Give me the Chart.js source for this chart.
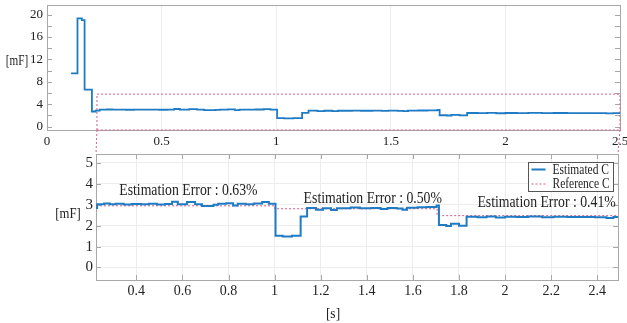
<!DOCTYPE html>
<html>
<head>
<meta charset="utf-8">
<script src="https://cdn.jsdelivr.net/npm/chart.js@4.4.0/dist/chart.umd.min.js"></script>
<style>
  html, body { margin: 0; padding: 0; background: #fff; }
  #wrap { position: relative; width: 627px; height: 323px; }
  canvas { position: absolute; left: 0; top: 0; }
</style>
</head>
<body>
<div id="wrap">
  <canvas id="topChart" width="627" height="323"></canvas>
  <canvas id="zoomChart" width="627" height="323"></canvas>
</div>
<script>
// Estimated capacitance [mF] over time [s] (value holds from each time on)
const timeS = [0.105, 0.133, 0.152, 0.164, 0.196, 0.212, 0.23, 0.26, 0.285, 0.31, 0.345, 0.38, 0.42, 0.455,
  0.49, 0.525, 0.555, 0.58, 0.62, 0.655, 0.685, 0.735, 0.755, 0.79, 0.82, 0.84, 0.875, 0.91, 0.946, 0.975,
  1.004, 1.035, 1.075, 1.113, 1.141, 1.18, 1.21, 1.245, 1.27, 1.33, 1.37, 1.42, 1.46, 1.49, 1.53, 1.555,
  1.575, 1.62, 1.66, 1.703, 1.713, 1.745, 1.765, 1.8, 1.833, 1.88, 1.92, 1.96, 2.0, 2.05, 2.1, 2.16, 2.21,
  2.27, 2.33, 2.39, 2.44, 2.47, 2.5];
const estimatedC = [9.5, 19.3, 19.0, 6.6, 2.7, 2.85, 3.02, 3.06, 3.02, 3.05, 3.01, 3.04, 3.02, 3.05,
  3.01, 3.04, 3.15, 3.02, 3.13, 3.02, 2.94, 3.0, 3.05, 3.07, 2.96, 3.05, 3.02, 3.06, 3.13, 3.05,
  1.52, 1.48, 1.52, 2.44, 2.84, 2.76, 2.83, 2.75, 2.83, 2.87, 2.83, 2.85, 2.8, 2.84, 2.82, 2.76,
  2.86, 2.88, 2.89, 2.97, 2.03, 1.99, 2.09, 2.0, 2.43, 2.4, 2.44, 2.39, 2.43, 2.41, 2.44, 2.4, 2.43,
  2.41, 2.42, 2.4, 2.37, 2.41, 2.41];

// Reference capacitance [mF]
const refTimeS = [0.225, 1.0, 1.705, 2.5];
const referenceC = [2.95, 2.81, 2.48, 2.48];

// Zoomed window marked on the top plot
const zoomBoxX = [0.218, 0.218, 2.5, 2.5, 0.218];
const zoomBoxY = [-0.6, 5.8, 5.8, -0.6, -0.6];

// Tick labels
const topXTicks = [0, 0.5, 1, 1.5, 2, 2.5];
const topYTicks = [0, 4, 8, 12, 16, 20];
const zoomXTicks = [0.4, 0.6, 0.8, 1, 1.2, 1.4, 1.6, 1.8, 2, 2.2, 2.4];
const zoomYTicks = [0, 1, 2, 3, 4, 5];

// Error notes shown in the zoomed plot
const errorNotes = ['Estimation Error : 0.63%', 'Estimation Error : 0.50%', 'Estimation Error : 0.41%'];
const errorNoteX = [0.626, 1.426, 2.18];
const errorNoteY = [3.68, 3.29, 3.08];

const SERIF = "'Liberation Serif', 'Times New Roman', serif";
const BLUE = '#1f7bc3';
const RED = '#d75c80';
const FRAME = '#a8a8a8';

function toPoints(xs, ys) {
  return xs.map((x, i) => ({ x: x, y: ys[i] }));
}

// the source figure is squeezed sideways, so its text is narrow
function narrowText(ctx, text, x, y, align, squeeze) {
  ctx.save();
  ctx.translate(x, y);
  ctx.scale(squeeze, 1);
  ctx.textAlign = align;
  ctx.fillText(text, 0, 0);
  ctx.restore();
}

function fixAxis(size, vertical) {
  return function (s) {
    if (vertical) s.width = size; else s.height = size;
    s.paddingTop = 0; s.paddingBottom = 0; s.paddingLeft = 0; s.paddingRight = 0;
  };
}

// Frame with inward MATLAB-like tick marks
function framePlugin(xMarks, yMarks) {
  return {
    id: 'frame',
    beforeDatasetsDraw(chart) {
      const { ctx, chartArea: a, scales: { x, y } } = chart;
      ctx.save();
      ctx.strokeStyle = FRAME;
      ctx.lineWidth = 1;
      ctx.beginPath();
      xMarks.forEach(v => {
        const px = Math.round(x.getPixelForValue(v)) + 0.5;
        ctx.moveTo(px, a.bottom); ctx.lineTo(px, a.bottom - 5);
        ctx.moveTo(px, a.top); ctx.lineTo(px, a.top + 5);
      });
      yMarks.forEach(v => {
        const py = Math.round(y.getPixelForValue(v)) + 0.5;
        ctx.moveTo(a.left, py); ctx.lineTo(a.left + 5, py);
        ctx.moveTo(a.right, py); ctx.lineTo(a.right - 5, py);
      });
      ctx.stroke();
      ctx.strokeRect(Math.round(a.left) + 0.5, Math.round(a.top) + 0.5,
        Math.round(a.right - a.left), Math.round(a.bottom - a.top));
      ctx.restore();
    }
  };
}

function scaleOpts(min, max, ticks, fontSize, pad, size, vertical, showGrid) {
  return {
    type: 'linear',
    min: min,
    max: max,
    afterBuildTicks: s => { s.ticks = ticks.map(v => ({ value: v })); },
    afterFit: fixAxis(size, vertical),
    grid: { display: showGrid, color: '#ededed', drawTicks: false },
    border: { display: false },
    ticks: {
      color: '#222',
      padding: pad,
      font: { family: SERIF, size: fontSize },
      callback: v => String(v)
    }
  };
}

const yMarksTop = [];
for (let v = 0; v <= 20; v += 2) yMarksTop.push(v);

const topChart = new Chart(document.getElementById('topChart'), {
  type: 'line',
  data: {
    datasets: [
      {
        label: 'Estimated C',
        data: toPoints(timeS, estimatedC),
        stepped: 'before',
        borderColor: BLUE,
        borderWidth: 1.8,
        pointRadius: 0
      },
      {
        label: 'Zoom window',
        data: toPoints(zoomBoxX, zoomBoxY),
        borderColor: RED,
        borderWidth: 1,
        borderDash: [2, 2],
        pointRadius: 0,
        clip: false
      }
    ]
  },
  options: {
    responsive: false,
    animation: false,
    layout: { padding: { left: 0, top: 5, right: 7, bottom: 173 } },
    plugins: { legend: { display: false }, tooltip: { enabled: false } },
    scales: {
      x: scaleOpts(0, 2.5, topXTicks, 13, 4, 20, false, true),
      y: scaleOpts(-0.6, 21.7, topYTicks, 13, 4, 47, true, false)
    }
  },
  plugins: [
    framePlugin([], yMarksTop),
    {
      id: 'topLabels',
      afterDraw(chart) {
        const ctx = chart.ctx;
        ctx.save();
        ctx.fillStyle = '#222';
        ctx.font = '14px ' + SERIF;
        ctx.textBaseline = 'middle';
        narrowText(ctx, '[mF]', 17, 61, 'center', 0.8);
        ctx.restore();
      }
    }
  ]
});

const zoomChart = new Chart(document.getElementById('zoomChart'), {
  type: 'line',
  data: {
    datasets: [
      {
        label: 'Estimated C',
        data: toPoints(timeS, estimatedC),
        stepped: 'before',
        borderColor: BLUE,
        borderWidth: 2,
        pointRadius: 0
      },
      {
        label: 'Reference C',
        data: toPoints(refTimeS, referenceC),
        stepped: 'before',
        borderColor: RED,
        borderWidth: 1,
        borderDash: [2, 2],
        pointRadius: 0
      }
    ]
  },
  options: {
    responsive: false,
    animation: false,
    layout: { padding: { left: 0, top: 154, right: 9, bottom: 23 } },
    plugins: { legend: { display: false }, tooltip: { enabled: false } },
    scales: {
      x: scaleOpts(0.225, 2.49, zoomXTicks, 14, 3, 20, false, true),
      y: scaleOpts(-0.6, 5.43, zoomYTicks, 15, 3, 96, true, true)
    }
  },
  plugins: [
    framePlugin(zoomXTicks, zoomYTicks),
    {
      id: 'zoomExtras',
      afterDraw(chart) {
        const { ctx, chartArea: a, scales: { x, y } } = chart;
        const ta = topChart.chartArea;
        const tx = topChart.scales.x;
        ctx.save();

        // lines joining the zoom window to this plot
        ctx.strokeStyle = RED;
        ctx.lineWidth = 1;
        ctx.setLineDash([2, 2]);
        ctx.beginPath();
        ctx.moveTo(tx.getPixelForValue(zoomBoxX[0]), ta.bottom);
        ctx.lineTo(a.left, a.top);
        ctx.moveTo(tx.getPixelForValue(zoomBoxX[2]), ta.bottom);
        ctx.lineTo(a.right, a.top);
        ctx.stroke();
        ctx.setLineDash([]);

        // error notes
        ctx.fillStyle = '#222';
        ctx.textBaseline = 'middle';
        ctx.font = '16px ' + SERIF;
        errorNotes.forEach((t, i) => {
          narrowText(ctx, t, x.getPixelForValue(errorNoteX[i]), y.getPixelForValue(errorNoteY[i]), 'center', 0.86);
        });

        // axis titles
        ctx.font = '15px ' + SERIF;
        narrowText(ctx, '[mF]', 68, 214, 'center', 0.85);
        narrowText(ctx, '[s]', 333, 314, 'center', 0.9);

        // legend
        const lx = 528.5, ly = 162.5, lw = 85, lh = 29;
        ctx.fillStyle = '#fff';
        ctx.fillRect(lx, ly, lw, lh);
        ctx.strokeStyle = '#555';
        ctx.lineWidth = 1;
        ctx.strokeRect(lx, ly, lw, lh);
        chart.data.datasets.forEach((d, i) => {
          const yy = ly + 7 + i * 14.5;
          ctx.strokeStyle = d.borderColor;
          ctx.lineWidth = i === 0 ? 2 : 1;
          ctx.setLineDash(d.borderDash || []);
          ctx.beginPath();
          ctx.moveTo(lx + 3, yy);
          ctx.lineTo(lx + 17, yy);
          ctx.stroke();
          ctx.setLineDash([]);
          ctx.fillStyle = '#222';
          ctx.font = '14px ' + SERIF;
          narrowText(ctx, d.label, lx + 24, yy + 0.5, 'left', 0.82);
        });
        ctx.restore();
      }
    }
  ]
});
</script>
</body>
</html>
